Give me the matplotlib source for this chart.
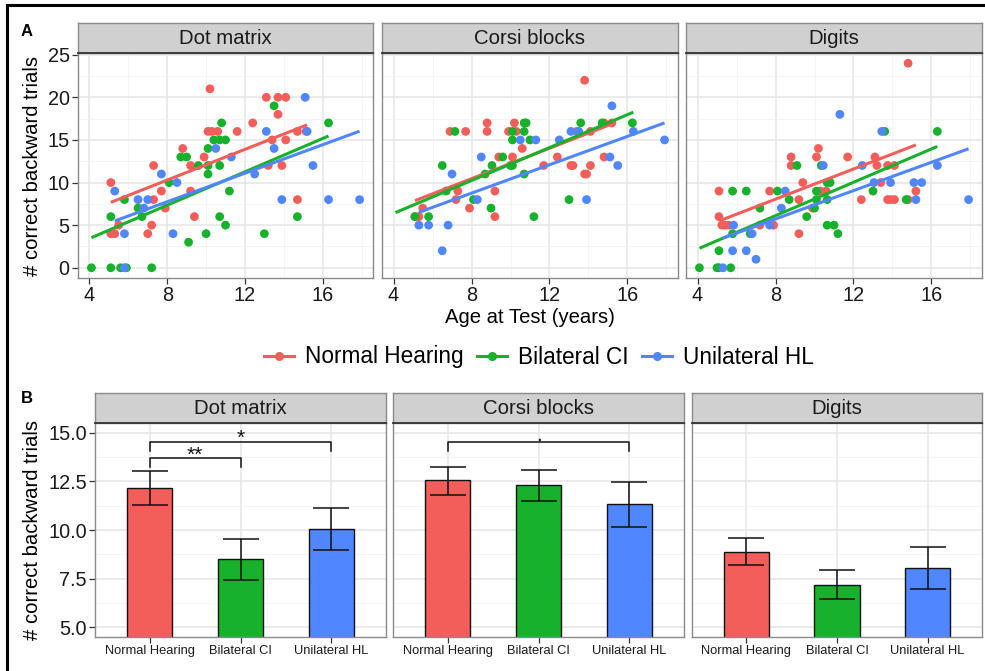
import numpy as np
import matplotlib
matplotlib.use("Agg")
import matplotlib.pyplot as plt
from matplotlib.lines import Line2D

plt.rcParams['font.family'] = ['Liberation Sans', 'DejaVu Sans']

groups = ['Normal Hearing', 'Bilateral CI', 'Unilateral HL']
tasks = ['Dot matrix', 'Corsi blocks', 'Digits']
colors = ['#F35E5A', '#17B12B', '#5086FF']

# ---- panel A: age vs score, per task and group ----
dot_nh_age = [5.1, 5.1, 5.3, 5.5, 7.3, 7.3, 7.2, 7.0, 7.7, 7.9, 8.8, 9.2, 9.2, 9.4, 9.9, 10.1, 10.3, 10.2, 10.6,
              11.6, 12.4, 13.1, 13.2, 13.4, 13.7, 13.7, 14.1, 13.9, 14.1, 14.7, 14.7, 15.15]
dot_nh_score = [10, 4, 4, 5, 12, 8, 5, 4, 9, 7, 14, 12, 9, 6, 13, 16, 16, 21, 16,
                16, 17, 20, 12, 15, 20, 18, 20, 12, 15, 8, 16, 16]
dot_ci_age = [4.1, 5.1, 5.1, 5.6, 5.9, 5.8, 6.5, 6.7, 7.2, 8.1, 8.7, 9.0, 9.1, 9.6, 10.0, 10.1, 10.1, 10.1, 10.4,
              10.7, 10.8, 11.0, 10.7, 10.7, 11.0, 11.2, 13.0, 13.5, 14.7, 16.3]
dot_ci_score = [0, 0, 6, 0, 0, 8, 7, 6, 0, 10, 13, 13, 3, 12, 4, 14, 11, 12, 15,
                15, 17, 15, 12, 6, 5, 9, 4, 19, 6, 17]
dot_hl_age = [5.3, 5.8, 5.8, 6.5, 6.8, 7.0, 7.7, 8.5, 8.3, 10.5, 11.3, 12.5, 13.1, 13.5, 13.9, 15.1, 15.2, 15.5,
              16.3, 17.9]
dot_hl_score = [9, 4, 0, 8, 7, 8, 11, 10, 4, 14, 13, 11, 16, 14, 8, 20, 16, 12, 8, 8]

corsi_nh_age = [5.1, 5.3, 5.5, 6.9, 7.7, 7.3, 7.2, 7.9, 8.8, 8.8, 9.2, 9.2, 9.4, 9.9, 10.2, 10.1, 10.3, 10.6, 11.7,
                12.4, 13.1, 13.2, 13.4, 13.8, 13.9, 13.8, 14.1, 14.1, 14.8, 14.8, 15.2]
corsi_nh_score = [6, 6, 7, 16, 16, 9, 8, 7, 17, 16, 9, 6, 13, 16, 17, 13, 16, 14, 12,
                  13, 12, 12, 16, 11, 11, 22, 12, 16, 13, 17, 17]
corsi_ci_age = [5.1, 5.8, 6.5, 6.7, 7.15, 8.1, 8.7, 9.0, 9.05, 9.6, 10.0, 10.1, 10.1, 10.1, 10.7, 10.8, 10.7, 10.7,
                11.0, 11.2, 13.0, 13.6, 14.7, 16.25]
corsi_ci_score = [6, 6, 12, 9, 16, 8, 11, 7, 12, 13, 12, 12, 15, 16, 17, 17, 16, 11,
                  15, 6, 8, 17, 17, 17]
corsi_hl_age = [5.3, 5.8, 6.8, 6.5, 7.0, 8.3, 8.5, 10.5, 11.3, 12.5, 13.1, 13.5, 13.9, 15.1, 15.2, 15.5, 16.3, 17.9]
corsi_hl_score = [5, 5, 5, 2, 11, 8, 13, 15, 15, 15, 16, 16, 8, 13, 19, 12, 16, 15]

digits_nh_age = [5.1, 5.1, 5.25, 5.4, 5.6, 7.2, 7.7, 7.9, 8.8, 8.8, 9.2, 9.2, 9.4, 9.9, 10.1, 10.2, 10.3, 10.6,
                 11.7, 12.4, 13.1, 13.2, 13.4, 13.75, 13.75, 13.9, 14.1, 14.1, 14.8, 14.8, 15.2]
digits_nh_score = [9, 6, 5, 5, 5, 5, 9, 5, 13, 12, 4, 8, 10, 7, 13, 14, 9, 9,
                   13, 8, 13, 12, 10, 12, 8, 8, 12, 8, 24, 8, 9]
digits_ci_age = [4.1, 5.0, 5.1, 5.1, 5.7, 5.8, 5.8, 6.5, 6.7, 7.2, 8.1, 8.7, 9.1, 9.6, 10.0, 10.1, 10.1, 10.35,
                 10.65, 10.8, 10.65, 10.65, 11.0, 11.2, 13.0, 13.6, 14.7, 16.3]
digits_ci_score = [0, 0, 0, 2, 0, 9, 4, 9, 4, 7, 9, 8, 12, 6, 7, 9, 8, 12,
                   10, 10, 8, 5, 5, 4, 9, 16, 8, 16]
digits_hl_age = [5.3, 5.8, 5.85, 6.5, 6.8, 7.0, 7.7, 8.3, 8.5, 10.45, 11.3, 12.45, 13.05, 13.45, 13.9, 15.1, 15.2,
                 15.5, 16.3, 17.9]
digits_hl_score = [0, 2, 5, 2, 4, 1, 5, 7, 9, 12, 18, 12, 10, 16, 10, 10, 8, 10, 12, 8]

# model fit lines (intercept, slope) per task, order NH / CI / HL
dot_intercept = [3.09, -0.48, 1.06]
dot_slope = [0.90, 0.978, 0.836]
corsi_intercept = [3.33, 2.51, 2.09]
corsi_slope = [0.891, 0.966, 0.833]
digits_intercept = [0.98, -1.72, -0.93]
digits_slope = [0.884, 0.979, 0.832]

# ---- panel B: mean +- se per task ----
dot_mean = [12.14, 8.49, 10.05]
dot_lo = [11.27, 7.45, 8.99]
dot_hi = [13.03, 9.52, 11.11]
corsi_mean = [12.55, 12.29, 11.32]
corsi_lo = [11.82, 11.50, 10.17]
corsi_hi = [13.25, 13.10, 12.45]
digits_mean = [8.89, 7.19, 8.07]
digits_lo = [8.18, 6.46, 6.97]
digits_hi = [9.61, 7.93, 9.14]

scatter_data = [
    [(dot_nh_age, dot_nh_score), (dot_ci_age, dot_ci_score), (dot_hl_age, dot_hl_score)],
    [(corsi_nh_age, corsi_nh_score), (corsi_ci_age, corsi_ci_score), (corsi_hl_age, corsi_hl_score)],
    [(digits_nh_age, digits_nh_score), (digits_ci_age, digits_ci_score), (digits_hl_age, digits_hl_score)],
]
fits = [(dot_intercept, dot_slope), (corsi_intercept, corsi_slope), (digits_intercept, digits_slope)]
bar_data = [(dot_mean, dot_lo, dot_hi), (corsi_mean, corsi_lo, corsi_hi), (digits_mean, digits_lo, digits_hi)]

W, H = 985, 671
fig = plt.figure(figsize=(W / 100, H / 100), dpi=100)


def rect(l, t, r, b):
    return [l / W, 1 - b / H, (r - l) / W, (b - t) / H]


BORDER = '#8a8a8a'


def style_panel(ax):
    ax.set_facecolor('white')
    for s in ax.spines.values():
        s.set_color(BORDER)
        s.set_linewidth(1.0)
    ax.grid(True, which='major', color='#E6E6E6', linewidth=1.1, zorder=0)
    ax.grid(True, which='minor', color='#F2F2F2', linewidth=0.6, zorder=0)
    ax.set_axisbelow(True)
    ax.tick_params(which='major', length=4, width=0.9, color='#333333', pad=2,
                   labelsize=14.3, labelcolor='#1a1a1a')
    ax.tick_params(which='minor', length=0)


def strip(l, t, r, b, label):
    sa = fig.add_axes(rect(l, t, r, b))
    sa.set_facecolor('#D0D0D0')
    sa.set_xticks([])
    sa.set_yticks([])
    for s in sa.spines.values():
        s.set_color(BORDER)
        s.set_linewidth(1.0)
    sa.spines['bottom'].set_color('#333333')
    sa.spines['bottom'].set_linewidth(1.3)
    sa.text(0.5, 0.47, label, ha='center', va='center', fontsize=14.7, color='#1a1a1a',
            transform=sa.transAxes)


# ---- panel A ----
a_cols = [(78, 373), (382, 678), (686, 982)]
for i, (l, r) in enumerate(a_cols):
    ax = fig.add_axes(rect(l, 53, r, 278))
    style_panel(ax)
    strip(l, 23, r, 53, tasks[i])
    for g in range(3):
        age, score = scatter_data[i][g]
        ax.scatter(age, score, s=40, color=colors[g], edgecolors='none', zorder=3 + g)
    b0, b1 = fits[i]
    for g in range(3):
        # line spans the age range of that group over all tasks
        all_age = np.concatenate([scatter_data[k][g][0] for k in range(3)])
        xs = np.array([all_age.min(), all_age.max()])
        ax.plot(xs, b0[g] + b1[g] * xs, color=colors[g], linewidth=2.2, zorder=6, solid_capstyle='butt')
    ax.set_xlim(3.41, 18.59)
    ax.set_ylim(-1.2, 25.2)
    ax.set_xticks([4, 8, 12, 16])
    ax.set_xticks([6, 10, 14, 18], minor=True)
    ax.set_yticks([0, 5, 10, 15, 20, 25])
    ax.set_yticks([2.5, 7.5, 12.5, 17.5, 22.5], minor=True)
    if i == 0:
        ax.set_ylabel('# correct backward trials', fontsize=14.6, labelpad=4)
    else:
        ax.tick_params(axis='y', which='both', left=False, labelleft=False)
    if i == 1:
        ax.set_xlabel('Age at Test (years)', fontsize=14.6, labelpad=2)

# legend
handles = [Line2D([0], [0], color=c, marker='o', markersize=5.5, linewidth=2.2) for c in colors]
fig.legend(handles, groups, loc='center', bbox_to_anchor=(539 / W, 1 - 357 / H), ncol=3,
           frameon=False, fontsize=16.3, handlelength=1.3, handletextpad=0.5, columnspacing=0.6)

# ---- panel B ----
b_cols = [(95, 386), (393, 684), (692, 982)]
xpos = np.arange(1, 4)
for i, (l, r) in enumerate(b_cols):
    ax = fig.add_axes(rect(l, 423, r, 637))
    style_panel(ax)
    strip(l, 393, r, 423, tasks[i])
    means, lo, hi = bar_data[i]
    means = np.array(means)
    ax.bar(xpos, means, width=0.5, color=colors, edgecolor='#111111', linewidth=1.0, zorder=2)
    ax.errorbar(xpos, means, yerr=[means - np.array(lo), np.array(hi) - means], fmt='none',
                ecolor='#111111', elinewidth=1.1, capsize=13, capthick=1.1, zorder=3)
    ax.set_xlim(0.4, 3.6)
    ax.set_ylim(4.5, 15.5)
    ax.set_xticks(xpos)
    ax.set_xticklabels(groups, fontsize=9.3)
    ax.set_yticks([5, 7.5, 10, 12.5, 15])
    ax.set_yticks([6.25, 8.75, 11.25, 13.75], minor=True)
    ax.yaxis.set_major_formatter(matplotlib.ticker.FormatStrFormatter('%.1f'))
    if i == 0:
        ax.set_ylabel('# correct backward trials', fontsize=14.6, labelpad=4)
    else:
        ax.tick_params(axis='y', which='both', left=False, labelleft=False)

    # significance brackets
    def bracket(x1, x2, y, drop, label, ly):
        ax.plot([x1, x1, x2, x2], [y - drop, y, y, y - drop], color='#111111', linewidth=1.1, zorder=4)
        ax.text((x1 + x2) / 2, ly, label, ha='center', va='center', fontsize=15, color='#111111')

    if i == 0:
        bracket(1, 2, 13.7, 0.48, '**', 13.85)
        bracket(1, 3, 14.52, 0.48, '*', 14.72)
    if i == 1:
        bracket(1, 3, 14.52, 0.48, '.', 14.85)

# panel letters
fig.text(27 / W, 1 - 31 / H, 'A', fontsize=12, fontweight='bold', ha='center', va='center')
fig.text(27 / W, 1 - 398 / H, 'B', fontsize=12, fontweight='bold', ha='center', va='center')

# frame lines at top and left
fig.add_artist(Line2D([7 / W, 1], [1 - 5 / H, 1 - 5 / H], color='black', linewidth=2.2,
                      transform=fig.transFigure))
fig.add_artist(Line2D([7 / W, 7 / W], [0, 1 - 5 / H], color='black', linewidth=2.2,
                      transform=fig.transFigure))

fig.savefig('out.png', dpi=100)
